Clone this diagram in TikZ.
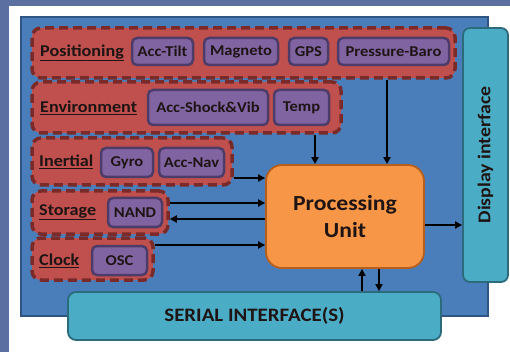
\documentclass[tikz,border=0pt]{standalone}
\usepackage{fontspec}
\setmainfont{Carlito}
\newfontfamily\widefont[FakeStretch=1.1]{Carlito}
\usetikzlibrary{arrows.meta}
\definecolor{slidebg}{HTML}{5B6FA0}
\definecolor{panel}{HTML}{4A7EBB}
\definecolor{panelborder}{HTML}{2F5584}
\definecolor{grpfill}{HTML}{C0504D}
\definecolor{grpborder}{HTML}{7A2B29}
\definecolor{itemfill}{HTML}{8064A2}
\definecolor{itemborder}{HTML}{4E3C68}
\definecolor{pufill}{HTML}{F79646}
\definecolor{puborder}{HTML}{B65E1C}
\definecolor{teal}{HTML}{4BACC6}
\definecolor{tealborder}{HTML}{2C6B7C}
\definecolor{txt}{HTML}{1E1414}
\tikzset{
  grp/.style={draw=grpborder, fill=grpfill, line width=3.5pt, dash pattern=on 9pt off 5pt,
    rounded corners=9pt, inner sep=0pt},
  item/.style={draw=itemborder, fill=itemfill, line width=2.5pt, rounded corners=5pt,
    inner sep=0pt, text=txt, font=\widefont\fontsize{15}{15}\selectfont\bfseries},
  glabel/.style={anchor=west, inner sep=0pt, text=txt, font=\widefont\fontsize{16.5}{16.5}\selectfont\bfseries},
  conn/.style={line width=2.6pt, -{Triangle[length=7pt,width=7pt]}}
}
\begin{document}
\begin{tikzpicture}[x=1pt,y=-1pt]
\useasboundingbox (0,0) rectangle (510,352);
% background
\fill[slidebg] (0,0) rectangle (510,352);
\fill[white] (9,6) rectangle (510,352);
% main panel
\node[draw=panelborder, fill=panel, line width=1.5pt, inner sep=0pt, minimum width=467pt, minimum height=299pt] (panelbox) at (254.5,166.5) {};
% groups
\node[grp, minimum width=423pt, minimum height=50pt] (pos) at (243.5,53) {};
\node[grp, minimum width=309pt, minimum height=51pt] (env) at (186.5,107.5) {};
\node[grp, minimum width=200pt, minimum height=47pt] (ine) at (132,161.5) {};
\node[grp, minimum width=136pt, minimum height=43pt] (sto) at (100,212.5) {};
\node[grp, minimum width=121pt, minimum height=42pt] (clk) at (92.5,259) {};
% group labels
\node[glabel] (posl) at (40,53) {\underline{Positioning}};
\node[glabel] (envl) at (40,108) {\underline{Environment}};
\node[glabel] (inel) at (39,162) {\underline{Inertial}};
\node[glabel] (stol) at (39,212) {\underline{Storage}};
\node[glabel] (clkl) at (39,261) {\underline{Clock}};
% items
\node[item, minimum width=61pt, minimum height=27pt] (acctilt) at (162.5,51.5) {Acc-Tilt};
\node[item, minimum width=74pt, minimum height=27pt] (magneto) at (241,51.5) {Magneto};
\node[item, minimum width=39pt, minimum height=27pt] (gps) at (308.5,51.5) {GPS};
\node[item, minimum width=111pt, minimum height=27pt] (baro) at (393.5,51.5) {Pressure-Baro};
\node[item, minimum width=120pt, minimum height=35pt] (shock) at (208,107.5) {Acc-Shock\&Vib};
\node[item, minimum width=55pt, minimum height=35pt] (temp) at (301.5,107.5) {Temp};
\node[item, minimum width=52pt, minimum height=29pt] (gyro) at (127,162.5) {Gyro};
\node[item, minimum width=65pt, minimum height=29pt] (accnav) at (191.5,162.5) {Acc-Nav};
\node[item, minimum width=54pt, minimum height=29pt] (nand) at (135,212.5) {NAND};
\node[item, minimum width=55pt, minimum height=29pt] (osc) at (119.5,260.5) {OSC};
% processing unit
\node[draw=puborder, fill=pufill, line width=1.8pt, rounded corners=16pt, inner sep=0pt,
  minimum width=158pt, minimum height=103pt, align=center, text=txt,
  font=\widefont\fontsize{21.5}{27}\selectfont\bfseries] (pu) at (345,216.5) {Processing\\Unit};
% display interface
\node[draw=tealborder, fill=teal, line width=1.8pt, rounded corners=7pt, inner sep=0pt,
  minimum width=45pt, minimum height=254pt] (disp) at (485.5,155) {};
\node[rotate=90, text=txt, font=\widefont\fontsize{18}{18}\selectfont\bfseries] (displ) at (disp.center) {Display interface};
% serial interface
\node[draw=tealborder, fill=teal, line width=1.8pt, rounded corners=8pt, inner sep=0pt,
  minimum width=373pt, minimum height=48pt, text=txt,
  font=\widefont\fontsize{19}{19}\selectfont\bfseries] (serial) at (254.5,316) {SERIAL INTERFACE(S)};
% connectors
\coordinate (xbaro) at (387,0);
\coordinate (xtemp) at (315,0);
\coordinate (ya) at (0,178);
\coordinate (yb) at (0,203);
\coordinate (yc) at (0,219);
\coordinate (yd) at (0,245);
\coordinate (ye) at (0,225);
\coordinate (xup) at (362,0);
\coordinate (xdn) at (379,0);
\draw[conn] (pos.south -| xbaro) -- (pu.north -| xbaro);
\draw[conn] (env.south -| xtemp) -- (pu.north -| xtemp);
\draw[conn] (ine.east |- ya) -- (pu.west |- ya);
\draw[conn] (sto.east |- yb) -- (pu.west |- yb);
\draw[conn] (pu.west |- yc) -- (sto.east |- yc);
\draw[conn] (clk.east |- yd) -- (pu.west |- yd);
\draw[conn] (pu.east |- ye) -- (disp.west |- ye);
\draw[conn] (serial.north -| xup) -- (pu.south -| xup);
\draw[conn] (pu.south -| xdn) -- (serial.north -| xdn);
\end{tikzpicture}
\end{document}
